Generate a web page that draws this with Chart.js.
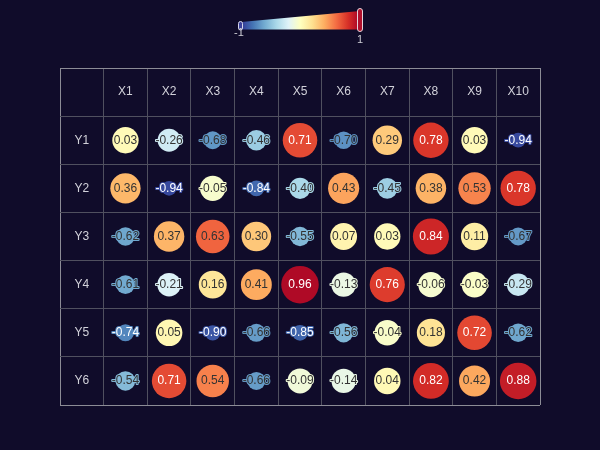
<!DOCTYPE html>
<html>
<head>
<meta charset="utf-8">
<script src="https://cdn.jsdelivr.net/npm/chart.js@4/dist/chart.umd.min.js"></script>
<style>
  html, body { margin: 0; padding: 0; background: #100c2a; }
  #wrap { width: 600px; height: 450px; position: relative; }
</style>
</head>
<body>
<div id="wrap"><canvas id="c"></canvas></div>
<script>
// ---- data ----
const xLabels = ['X1', 'X2', 'X3', 'X4', 'X5', 'X6', 'X7', 'X8', 'X9', 'X10'];
const yLabels = ['Y1', 'Y2', 'Y3', 'Y4', 'Y5', 'Y6'];
const y1Values = [0.03, -0.26, -0.68, -0.46, 0.71, -0.70, 0.29, 0.78, 0.03, -0.94];
const y2Values = [0.36, -0.94, -0.05, -0.84, -0.40, 0.43, -0.45, 0.38, 0.53, 0.78];
const y3Values = [-0.62, 0.37, 0.63, 0.30, -0.55, 0.07, 0.03, 0.84, 0.11, -0.67];
const y4Values = [-0.61, -0.21, 0.16, 0.41, 0.96, -0.13, 0.76, -0.06, -0.03, -0.29];
const y5Values = [-0.74, 0.05, -0.90, -0.66, -0.85, -0.56, -0.04, 0.18, 0.72, -0.62];
const y6Values = [-0.54, 0.71, 0.54, -0.66, -0.09, -0.14, 0.04, 0.82, 0.42, 0.88];
const legendLabels = ['-1', '1'];
const colorStops = ['#313695', '#4575b4', '#74add1', '#abd9e9', '#e0f3f8', '#ffffbf',
                    '#fee090', '#fdae61', '#f46d43', '#d73027', '#a50026'];

const rows = [y1Values, y2Values, y3Values, y4Values, y5Values, y6Values];

function hexToRgb(h) {
  return [parseInt(h.slice(1, 3), 16), parseInt(h.slice(3, 5), 16), parseInt(h.slice(5, 7), 16)];
}
function colorRgb(v) {
  const t = Math.max(0, Math.min(1, (v + 1) / 2)) * (colorStops.length - 1);
  const i = Math.min(Math.floor(t), colorStops.length - 2);
  const f = t - i;
  const a = hexToRgb(colorStops[i]), b = hexToRgb(colorStops[i + 1]);
  return [0, 1, 2].map(k => Math.round(a[k] + (b[k] - a[k]) * f));
}
function colorFor(v) {
  const c = colorRgb(v);
  return 'rgb(' + c.join(',') + ')';
}
function isDark(v) {
  const c = colorRgb(v);
  return (0.299 * c[0] + 0.587 * c[1] + 0.114 * c[2]) / 255 < 0.5;
}

const points = [];
rows.forEach((row, r) => {
  row.forEach((v, c) => {
    points.push({ x: c + 1.5, y: r + 1.5, v: v });
  });
});

const FONT = '"Liberation Sans", Arial, sans-serif';

const overlayPlugin = {
  id: 'overlay',
  afterDatasetsDraw(chart) {
    const ctx = chart.ctx;
    const xs = chart.scales.x, ys = chart.scales.y;
    ctx.save();
    // header labels
    ctx.font = '12px ' + FONT;
    ctx.textAlign = 'center';
    ctx.textBaseline = 'middle';
    ctx.fillStyle = '#d2d2da';
    xLabels.forEach((l, i) => {
      ctx.fillText(l, xs.getPixelForValue(i + 1.5), ys.getPixelForValue(0.5));
    });
    yLabels.forEach((l, i) => {
      ctx.fillText(l, xs.getPixelForValue(0.5), ys.getPixelForValue(i + 1.5));
    });
    // value labels
    const meta = chart.getDatasetMeta(0);
    meta.data.forEach((el, i) => {
      const d = chart.data.datasets[0].data[i];
      const txt = d.v.toFixed(2);
      ctx.lineJoin = 'round';
      ctx.lineWidth = 2;
      ctx.strokeStyle = colorFor(d.v);
      ctx.strokeText(txt, el.x, el.y);
      ctx.fillStyle = isDark(d.v) ? '#ffffff' : '#333333';
      ctx.fillText(txt, el.x, el.y);
    });
    ctx.restore();
  },
  afterDraw(chart) {
    const ctx = chart.ctx;
    ctx.save();
    // visual map legend
    const x0 = 241, x1 = 360;
    const g = ctx.createLinearGradient(x0, 0, x1, 0);
    colorStops.forEach((c, i) => g.addColorStop(i / (colorStops.length - 1), c));
    ctx.fillStyle = g;
    ctx.beginPath();
    ctx.moveTo(x0, 29.5);
    ctx.lineTo(x0, 22);
    ctx.lineTo(x1, 11);
    ctx.lineTo(x1, 29.5);
    ctx.closePath();
    ctx.fill();
    // handles
    ctx.lineWidth = 1;
    ctx.fillStyle = '#3b409a';
    ctx.strokeStyle = '#d6d6ea';
    ctx.beginPath();
    ctx.roundRect(238.5, 21.5, 4, 8.5, 2);
    ctx.fill(); ctx.stroke();
    ctx.fillStyle = '#b0102c';
    ctx.strokeStyle = '#e6d6dc';
    ctx.beginPath();
    ctx.roundRect(357.5, 8.5, 5, 23, 2.5);
    ctx.fill(); ctx.stroke();
    // labels
    ctx.font = '11px ' + FONT;
    ctx.textAlign = 'center';
    ctx.textBaseline = 'middle';
    ctx.fillStyle = '#cfcfd6';
    ctx.fillText(legendLabels[0], 239, 33);
    ctx.fillText(legendLabels[1], 360, 40);
    ctx.restore();
  }
};

function gridColor(ctx) {
  const v = ctx.tick ? ctx.tick.value : 0;
  const max = ctx.scale.max;
  return (v === 0 || v === max) ? '#8c8c96' : '#50505f';
}

new Chart(document.getElementById('c'), {
  type: 'bubble',
  data: {
    datasets: [{
      data: points,
      backgroundColor: ctx => colorFor(ctx.raw.v),
      borderWidth: 0,
      radius: ctx => 13 + 6 * ctx.raw.v,
      hoverRadius: 0
    }]
  },
  options: {
    responsive: true,
    maintainAspectRatio: false,
    animation: false,
    events: [],
    layout: { padding: { left: 60, right: 60, top: 68, bottom: 45 } },
    plugins: { legend: { display: false }, tooltip: { enabled: false } },
    scales: {
      x: {
        type: 'linear', min: 0, max: 11,
        ticks: { display: false, stepSize: 1 },
        grid: { color: gridColor, lineWidth: 1, drawTicks: false },
        border: { display: false }
      },
      y: {
        type: 'linear', min: 0, max: 7, reverse: true,
        ticks: { display: false, stepSize: 1 },
        grid: { color: gridColor, lineWidth: 1, drawTicks: false },
        border: { display: false }
      }
    }
  },
  plugins: [overlayPlugin]
});
</script>
</body>
</html>
